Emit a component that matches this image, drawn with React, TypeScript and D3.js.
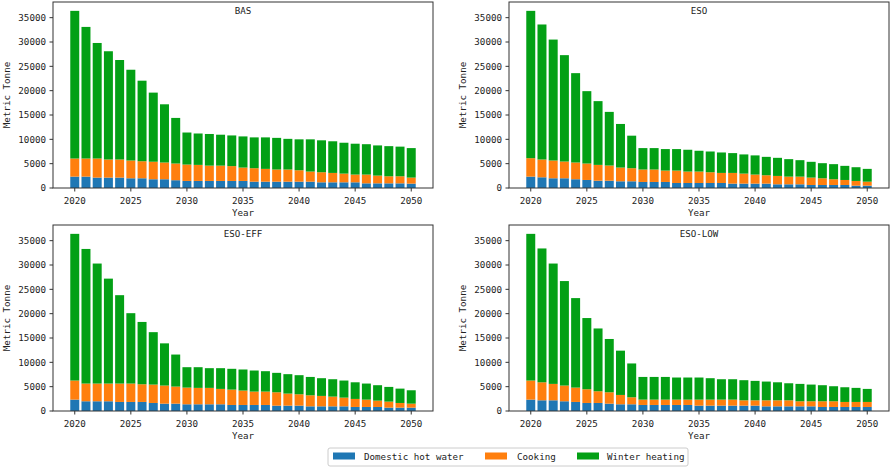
import * as d3 from "d3";

const years = d3.range(2020, 2051);
const seriesKeys = ["Domestic hot water", "Cooking", "Winter heating"];
const colors = ["#1f77b4", "#ff7f0e", "#03a015"];
const yTicks = [0, 5000, 10000, 15000, 20000, 25000, 30000, 35000];
const xTicks = [2020, 2025, 2030, 2035, 2040, 2045, 2050];

// BAS
const basHot = [2340, 2340, 2140, 2140, 2140, 2000, 2000, 1800, 1800, 1600, 1450, 1450, 1450, 1450, 1450, 1450, 1300, 1300, 1300, 1300, 1300, 1300, 1170, 1170, 1170, 1170, 960, 960, 960, 960, 900];
const basCooking = [3720, 3720, 3920, 3720, 3720, 3650, 3500, 3600, 3440, 3430, 3370, 3300, 3150, 3150, 3050, 2750, 2770, 2630, 2500, 2500, 2350, 2080, 2070, 1930, 1790, 1590, 1800, 1590, 1450, 1450, 1240];
const basHeating = [30340, 27040, 23740, 22240, 20440, 18650, 16550, 14200, 11960, 9370, 6580, 6450, 6500, 6350, 6300, 6400, 6330, 6470, 6500, 6300, 6350, 6620, 6560, 6500, 6340, 6340, 6240, 6200, 6190, 6090, 6060];

// ESO
const esoHot = [2340, 2200, 2000, 2000, 1800, 1650, 1500, 1500, 1380, 1380, 1240, 1240, 1240, 1030, 1030, 1030, 1030, 1030, 900, 900, 900, 900, 760, 760, 760, 620, 620, 620, 620, 480, 480];
const esoCooking = [3790, 3660, 3650, 3440, 3440, 3380, 3250, 3120, 2820, 2690, 2560, 2560, 2340, 2550, 2350, 2350, 2210, 2070, 2200, 2060, 1860, 1720, 1720, 1580, 1580, 1520, 1380, 1180, 1030, 970, 820];
const esoHeating = [30270, 27740, 24850, 21860, 18360, 14870, 13100, 11020, 8960, 6680, 4400, 4400, 4420, 4420, 4480, 4270, 4260, 4200, 4070, 3940, 3940, 3780, 3720, 3590, 3380, 3240, 3100, 3100, 2900, 2820, 2630];

// ESO-EFF
const effHot = [2340, 2000, 2000, 2000, 1860, 1860, 1860, 1650, 1510, 1510, 1380, 1380, 1380, 1380, 1240, 1240, 1240, 1240, 1100, 1100, 1100, 960, 960, 960, 960, 830, 830, 830, 690, 690, 690];
const effCooking = [3920, 3640, 3640, 3640, 3780, 3780, 3640, 3780, 3720, 3510, 3430, 3370, 3370, 3160, 3160, 2960, 2750, 2750, 2750, 2480, 2340, 2270, 2140, 2000, 1790, 1650, 1510, 1300, 1240, 960, 820];
const effHeating = [30140, 27660, 24660, 21560, 18160, 14460, 12800, 10770, 8670, 6580, 4190, 4250, 4050, 4260, 4270, 4330, 4330, 4190, 3990, 3990, 3920, 3770, 3640, 3570, 3510, 3420, 3300, 3170, 3020, 2950, 2750];

// ESO-LOW
const lowHot = [2340, 2200, 2200, 2000, 1860, 1650, 1650, 1510, 1380, 1380, 1240, 1240, 1240, 1240, 1240, 1100, 1100, 1100, 1100, 1100, 1100, 960, 960, 960, 960, 960, 830, 830, 830, 830, 830];
const lowCooking = [3920, 3700, 3370, 3230, 2950, 2820, 2410, 2340, 1920, 1440, 1100, 1100, 1100, 1100, 1100, 1240, 1240, 1240, 1240, 1100, 1100, 1240, 1240, 1240, 1040, 1040, 1170, 1170, 1030, 1030, 1030];
const lowHeating = [30140, 27500, 24730, 21470, 18390, 14630, 12900, 10950, 9100, 6950, 4660, 4660, 4660, 4540, 4540, 4540, 4400, 4190, 4190, 4130, 3990, 3850, 3700, 3500, 3570, 3430, 3300, 3090, 3020, 2890, 2680];

const scenarios = [
  { name: "BAS", series: [basHot, basCooking, basHeating] },
  { name: "ESO", series: [esoHot, esoCooking, esoHeating] },
  { name: "ESO-EFF", series: [effHot, effCooking, effHeating] },
  { name: "ESO-LOW", series: [lowHot, lowCooking, lowHeating] },
];

const W = 892;
const H = 468;
const font = "'DejaVu Sans Mono', 'Liberation Mono', monospace";
const fs = 9.2;
const axisColor = "#333";
const textColor = "#222";

const panelBoxes = [
  { left: 53, right: 433, top: 2, bottom: 188 },
  { left: 509, right: 889, top: 2, bottom: 188 },
  { left: 53, right: 433, top: 225, bottom: 411 },
  { left: 509, right: 889, top: 225, bottom: 411 },
];

function Panel({ idx }: { idx: number }) {
  const sc = scenarios[idx];
  const box = panelBoxes[idx];
  const rows = years.map((yr, i) => {
    const r: any = { year: yr };
    seriesKeys.forEach((k, j) => (r[k] = sc.series[j][i]));
    return r;
  });
  const stacked = d3.stack().keys(seriesKeys)(rows);
  const maxTotal = d3.max(stacked[stacked.length - 1], (d) => d[1]) as number;

  const barW = 0.8;
  const x0 = years[0] - barW / 2;
  const x1 = years[years.length - 1] + barW / 2;
  const pad = (x1 - x0) * 0.05;
  const x = d3.scaleLinear().domain([x0 - pad, x1 + pad]).range([box.left, box.right]);
  const y = d3.scaleLinear().domain([0, maxTotal * 1.05]).range([box.bottom, box.top]);
  const bw = x(barW) - x(0);
  const midX = (box.left + box.right) / 2;
  const midY = (box.top + box.bottom) / 2;

  return (
    <g>
      {stacked.map((layer, li) => (
        <g key={li} fill={colors[li]}>
          {layer.map((d, i) => (
            <rect
              key={i}
              x={x(years[i]) - bw / 2}
              y={y(d[1])}
              width={bw}
              height={y(d[0]) - y(d[1])}
            />
          ))}
        </g>
      ))}
      <rect
        x={box.left}
        y={box.top}
        width={box.right - box.left}
        height={box.bottom - box.top}
        fill="none"
        stroke={axisColor}
        strokeWidth={1}
      />
      {yTicks.map((t) => (
        <g key={t}>
          <line x1={box.left - 3.5} x2={box.left} y1={y(t)} y2={y(t)} stroke={axisColor} />
          <text
            x={box.left - 7}
            y={y(t)}
            dy="0.35em"
            textAnchor="end"
            fontSize={fs}
            fontFamily={font}
            fill={textColor}
          >
            {t}
          </text>
        </g>
      ))}
      {xTicks.map((t) => (
        <g key={t}>
          <line x1={x(t)} x2={x(t)} y1={box.bottom} y2={box.bottom + 3.5} stroke={axisColor} />
          <text
            x={x(t)}
            y={box.bottom + 16}
            textAnchor="middle"
            fontSize={fs}
            fontFamily={font}
            fill={textColor}
          >
            {t}
          </text>
        </g>
      ))}
      <text
        x={midX}
        y={box.top + 12}
        textAnchor="middle"
        fontSize={fs}
        fontFamily={font}
        fill={textColor}
      >
        {sc.name}
      </text>
      <text
        x={midX}
        y={box.bottom + 28}
        textAnchor="middle"
        fontSize={fs}
        fontFamily={font}
        fill={textColor}
      >
        Year
      </text>
      <text
        transform={`translate(${box.left - 43},${midY}) rotate(-90)`}
        textAnchor="middle"
        fontSize={fs}
        fontFamily={font}
        fill={textColor}
      >
        Metric Tonne
      </text>
    </g>
  );
}

function Legend() {
  const items = [
    { key: seriesKeys[0], px: 333, tx: 364 },
    { key: seriesKeys[1], px: 485, tx: 517 },
    { key: seriesKeys[2], px: 577, tx: 607 },
  ];
  return (
    <g>
      <rect x={328} y={448} width={360} height={18} rx={2} fill="#fff" stroke="#ccc" strokeWidth={1} />
      {items.map((it, i) => (
        <g key={it.key}>
          <rect x={it.px} y={452.5} width={22} height={7} fill={colors[i]} />
          <text x={it.tx} y={460} fontSize={fs} fontFamily={font} fill={textColor}>
            {it.key}
          </text>
        </g>
      ))}
    </g>
  );
}

export default function App() {
  return (
    <svg
      width={W}
      height={H}
      style={{ position: "absolute", left: 0, top: 0, background: "#fff" }}
    >
      {scenarios.map((_, i) => (
        <Panel key={i} idx={i} />
      ))}
      <Legend />
    </svg>
  );
}
